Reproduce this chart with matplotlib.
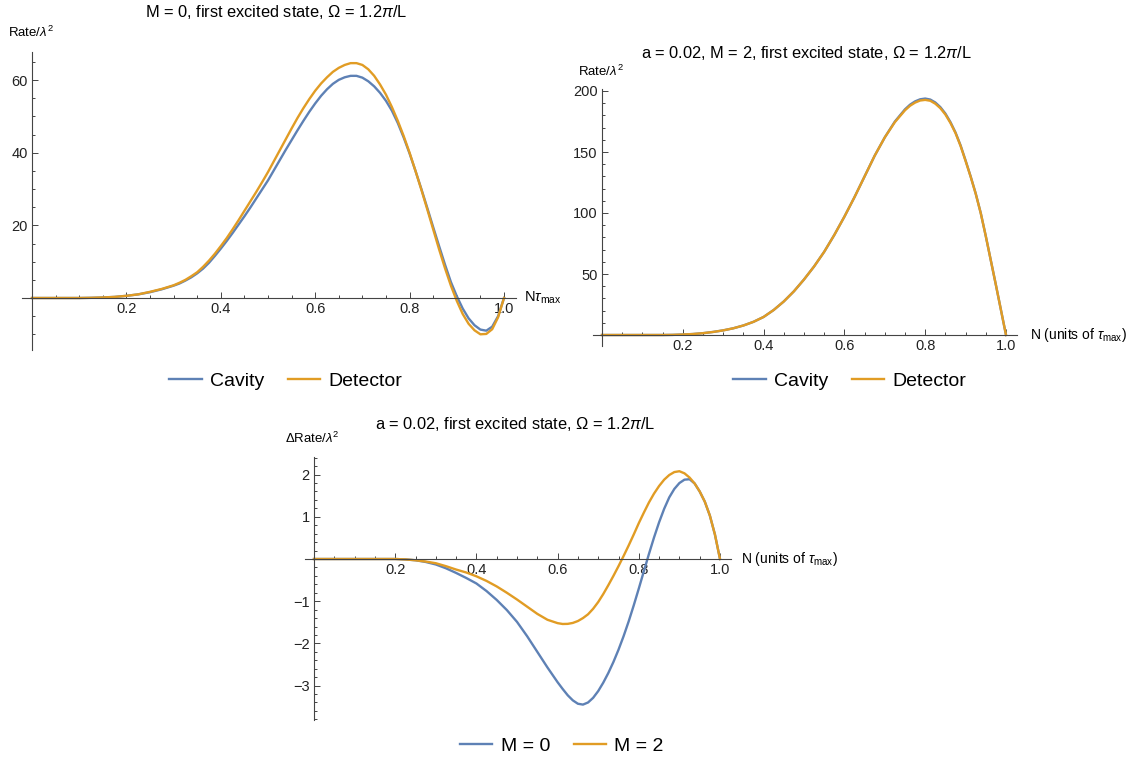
import numpy as np
import matplotlib
matplotlib.use('Agg')
import matplotlib.pyplot as plt
from matplotlib.ticker import MultipleLocator, FixedLocator

plt.rcParams['font.family'] = ['Liberation Sans', 'DejaVu Sans']
plt.rcParams['mathtext.fontset'] = 'custom'
plt.rcParams['mathtext.rm'] = 'Liberation Sans'
plt.rcParams['mathtext.it'] = 'Liberation Sans:italic'

W, H = 1132, 761
BLUE = '#5E81B5'
ORANGE = '#E19C24'

# ---- panel 1: M = 0 (x in units of tau_max)
n1 = [0.0, 0.05, 0.1, 0.125, 0.15, 0.175, 0.2, 0.225, 0.25, 0.275,
      0.3, 0.3125, 0.325, 0.3375, 0.35, 0.3625, 0.375, 0.3875, 0.4, 0.4125,
      0.425, 0.4375, 0.45, 0.4625, 0.475, 0.4875, 0.5, 0.5125, 0.525, 0.5375,
      0.55, 0.5625, 0.575, 0.5875, 0.6, 0.6125, 0.625, 0.6375, 0.65, 0.6625,
      0.675, 0.6875, 0.7, 0.7125, 0.725, 0.7375, 0.75, 0.7625, 0.775, 0.7875,
      0.8, 0.8125, 0.825, 0.8375, 0.85, 0.8625, 0.875, 0.8875, 0.9, 0.9125,
      0.925, 0.9375, 0.95, 0.9625, 0.975, 0.9875, 1.0]
cavity_m0 = [0, 0, 0, 0.05, 0.15, 0.3, 0.6, 1.0, 1.6, 2.4,
             3.4, 4.0, 4.8, 5.7, 6.8, 8.1, 9.7, 11.6, 13.6, 15.7,
             17.9, 20.2, 22.5, 24.9, 27.4, 29.9, 32.4, 35.2, 38.0, 40.8,
             43.5, 46.2, 48.8, 51.3, 53.6, 55.7, 57.5, 59.0, 60.1, 60.8,
             61.2, 61.2, 60.7, 59.7, 58.3, 56.5, 54.3, 51.6, 48.2, 44.2,
             39.8, 35.0, 30.0, 24.8, 19.5, 14.3, 9.2, 4.4, 0.5, -2.9,
             -5.6, -7.5, -8.7, -9.0, -7.9, -5.0, 0]
detector_m0 = [0, 0, 0, 0.05, 0.15, 0.3, 0.6, 1.0, 1.7, 2.5,
               3.5, 4.2, 5.0, 6.0, 7.1, 8.6, 10.3, 12.2, 14.3, 16.5,
               18.9, 21.4, 24.0, 26.6, 29.2, 31.9, 34.7, 37.7, 40.7, 43.7,
               46.7, 49.6, 52.3, 54.8, 57.1, 59.1, 60.8, 62.3, 63.4, 64.2,
               64.7, 64.7, 64.2, 63.0, 61.2, 58.8, 56.0, 52.6, 48.8, 44.6,
               40.0, 35.0, 29.8, 24.4, 18.9, 13.4, 8.2, 3.4, -0.8, -4.4,
               -7.1, -8.9, -10.0, -9.9, -8.6, -5.3, 0]

# ---- panel 2: a = 0.02, M = 2
n2 = [0.0, 0.05, 0.1, 0.15, 0.175, 0.2, 0.225, 0.25, 0.275, 0.3,
      0.325, 0.35, 0.375, 0.4, 0.425, 0.45, 0.475, 0.5, 0.525, 0.55,
      0.575, 0.6, 0.625, 0.65, 0.675, 0.7, 0.725, 0.75, 0.7625, 0.775,
      0.7875, 0.8, 0.8125, 0.825, 0.8375, 0.85, 0.8625, 0.875, 0.8875, 0.9,
      0.9125, 0.925, 0.9375, 0.95, 0.9625, 0.975, 0.9875, 1.0]
cavity_m2 = [0, 0, 0, 0, 0.1, 0.4, 0.8, 1.5, 2.5, 3.8,
             5.5, 7.8, 10.8, 14.8, 20.5, 27.5, 35.8, 45.5, 56.2, 68.2,
             82, 97, 113, 130, 147, 162, 175, 185, 188.8, 191.5,
             193.2, 193.8, 193.0, 190.6, 186.8, 181.5, 174.5, 166, 155.5, 143,
             130, 116, 100, 81, 61, 41, 20.5, 0]
detector_m2 = [0, 0, 0, 0, 0.1, 0.4, 0.8, 1.5, 2.5, 3.8,
               5.5, 7.8, 10.8, 14.8, 20.5, 27.5, 35.8, 45.5, 56.2, 68.2,
               82, 97, 113, 130, 147, 162, 174.5, 184.2, 187.9, 190.5,
               192.2, 192.7, 192.0, 189.6, 185.9, 180.7, 173.8, 165.5, 155, 142.6,
               129.7, 115.8, 99.8, 81, 61, 41, 20.5, 0]

# ---- panel 3: rate difference, a = 0.02
n3 = [0.0, 0.1, 0.2, 0.225, 0.25, 0.275, 0.3, 0.325, 0.35, 0.375,
      0.4, 0.425, 0.45, 0.475, 0.5, 0.525, 0.55, 0.575, 0.6, 0.6125,
      0.625, 0.6375, 0.65, 0.6625, 0.675, 0.6875, 0.7, 0.7125, 0.725, 0.7375,
      0.75, 0.7625, 0.775, 0.7875, 0.8, 0.8125, 0.825, 0.8375, 0.85, 0.8625,
      0.875, 0.8875, 0.9, 0.9125, 0.925, 0.9375, 0.95, 0.9625, 0.975, 0.9875,
      1.0]
diff_m0 = [0, 0, 0, -0.01, -0.03, -0.07, -0.13, -0.22, -0.33, -0.45,
           -0.58, -0.76, -0.97, -1.21, -1.49, -1.83, -2.2, -2.57, -2.92, -3.08,
           -3.23, -3.35, -3.43, -3.45, -3.40, -3.29, -3.13, -2.93, -2.70, -2.44,
           -2.15, -1.83, -1.48, -1.10, -0.70, -0.29, 0.12, 0.51, 0.87, 1.19,
           1.46, 1.66, 1.80, 1.88, 1.89, 1.79, 1.6, 1.36, 1.03, 0.58,
           0]
diff_m2 = [0, 0, 0, -0.01, -0.03, -0.06, -0.1, -0.17, -0.25, -0.32,
           -0.41, -0.52, -0.65, -0.8, -0.96, -1.13, -1.3, -1.44, -1.52, -1.54,
           -1.537, -1.515, -1.47, -1.40, -1.31, -1.18, -1.02, -0.83, -0.62, -0.40,
           -0.17, 0.07, 0.32, 0.58, 0.85, 1.10, 1.34, 1.55, 1.73, 1.88,
           1.99, 2.06, 2.08, 2.03, 1.93, 1.79, 1.6, 1.36, 1.03, 0.58,
           0]

fig = plt.figure(figsize=(W / 100, H / 100), dpi=100)


def make_axes(x0, sx, y0, sy, xlim, ylim):
    # x0,y0: pixel of data origin; sx,sy: pixels per data unit
    left = x0 + sx * xlim[0]
    right = x0 + sx * xlim[1]
    top = y0 - sy * ylim[1]
    bottom = y0 - sy * ylim[0]
    ax = fig.add_axes([left / W, 1 - bottom / H, (right - left) / W, (bottom - top) / H])
    ax.set_xlim(xlim)
    ax.set_ylim(ylim)
    ax.patch.set_alpha(0)
    for s in ['top', 'right']:
        ax.spines[s].set_visible(False)
    for s in ['left', 'bottom']:
        ax.spines[s].set_position(('data', 0))
        ax.spines[s].set_color('#444444')
        ax.spines[s].set_linewidth(0.8)
    ax.tick_params(which='both', direction='in', color='#444444', labelsize=10.5,
                   labelcolor='#222222', width=0.7)
    ax.tick_params(which='major', length=4.5, pad=3)
    ax.tick_params(which='minor', length=2.5)
    ax.xaxis.set_major_locator(FixedLocator([0.2, 0.4, 0.6, 0.8, 1.0]))
    ax.xaxis.set_minor_locator(MultipleLocator(0.05))
    ax.xaxis.set_major_formatter(plt.FuncFormatter(lambda v, p: '%.1f' % v))
    return ax


def ftext(px, py, s, **kw):
    fig.text(px / W, 1 - py / H, s, **kw)


def flegend(ax, cx, cy, labels):
    ax.legend(labels, loc='center', bbox_to_anchor=(cx / W, 1 - cy / H),
              bbox_transform=fig.transFigure, ncol=2, frameon=False,
              fontsize=14, handlelength=1.65, handletextpad=0.45, columnspacing=1.2)


# ---- panel 1
ax1 = make_axes(32, 472, 298, 3.63, (-0.022, 1.026), (-14.4, 67.8))
ax1.plot(n1, cavity_m0, color=BLUE, lw=1.7)
ax1.plot(n1, detector_m0, color=ORANGE, lw=1.7)
ax1.yaxis.set_major_locator(FixedLocator([20, 40, 60]))
ax1.yaxis.set_minor_locator(MultipleLocator(5))
flegend(ax1, 286, 381, ['Cavity', 'Detector'])
ftext(276, 12, r'M = 0, first excited state, $\Omega$ = 1.2$\pi$/L', ha='center', va='center', fontsize=11.8)
ftext(8, 32, r'Rate/$\lambda^2$', ha='left', va='center', fontsize=9.5)
ftext(524, 298, r'N$\tau_{\rm max}$', ha='left', va='center', fontsize=10.5)

# ---- panel 2
ax2 = make_axes(602, 404, 335, 1.22, (-0.022, 1.026), (-9, 202))
ax2.plot(n2, cavity_m2, color=BLUE, lw=1.7)
ax2.plot(n2, detector_m2, color=ORANGE, lw=1.7)
ax2.yaxis.set_major_locator(FixedLocator([50, 100, 150, 200]))
ax2.yaxis.set_minor_locator(MultipleLocator(10))
flegend(ax2, 850, 381, ['Cavity', 'Detector'])
ftext(806, 53, r'a = 0.02, M = 2, first excited state, $\Omega$ = 1.2$\pi$/L', ha='center', va='center', fontsize=11.8)
ftext(578, 71, r'Rate/$\lambda^2$', ha='left', va='center', fontsize=9.5)
ftext(1030, 335, r'N (units of $\tau_{\rm max}$)', ha='left', va='center', fontsize=10)

# ---- panel 3
ax3 = make_axes(314, 406, 559, 42.2, (-0.022, 1.026), (-3.82, 2.41))
ax3.plot(n3, diff_m0, color=BLUE, lw=1.7)
ax3.plot(n3, diff_m2, color=ORANGE, lw=1.7)
ax3.yaxis.set_major_locator(FixedLocator([-3, -2, -1, 1, 2]))
ax3.yaxis.set_minor_locator(MultipleLocator(0.2))
ax3.yaxis.set_major_formatter(plt.FuncFormatter(lambda v, p: ('%d' % v).replace('-', '\u2212')))
flegend(ax3, 562, 746, ['M = 0', 'M = 2'])
ftext(515, 424, r'a = 0.02, first excited state, $\Omega$ = 1.2$\pi$/L', ha='center', va='center', fontsize=11.8)
ftext(285, 438, r'$\Delta$Rate/$\lambda^2$', ha='left', va='center', fontsize=9.5)
ftext(741, 559, r'N (units of $\tau_{\rm max}$)', ha='left', va='center', fontsize=10)

fig.savefig('out.png', dpi=100)
